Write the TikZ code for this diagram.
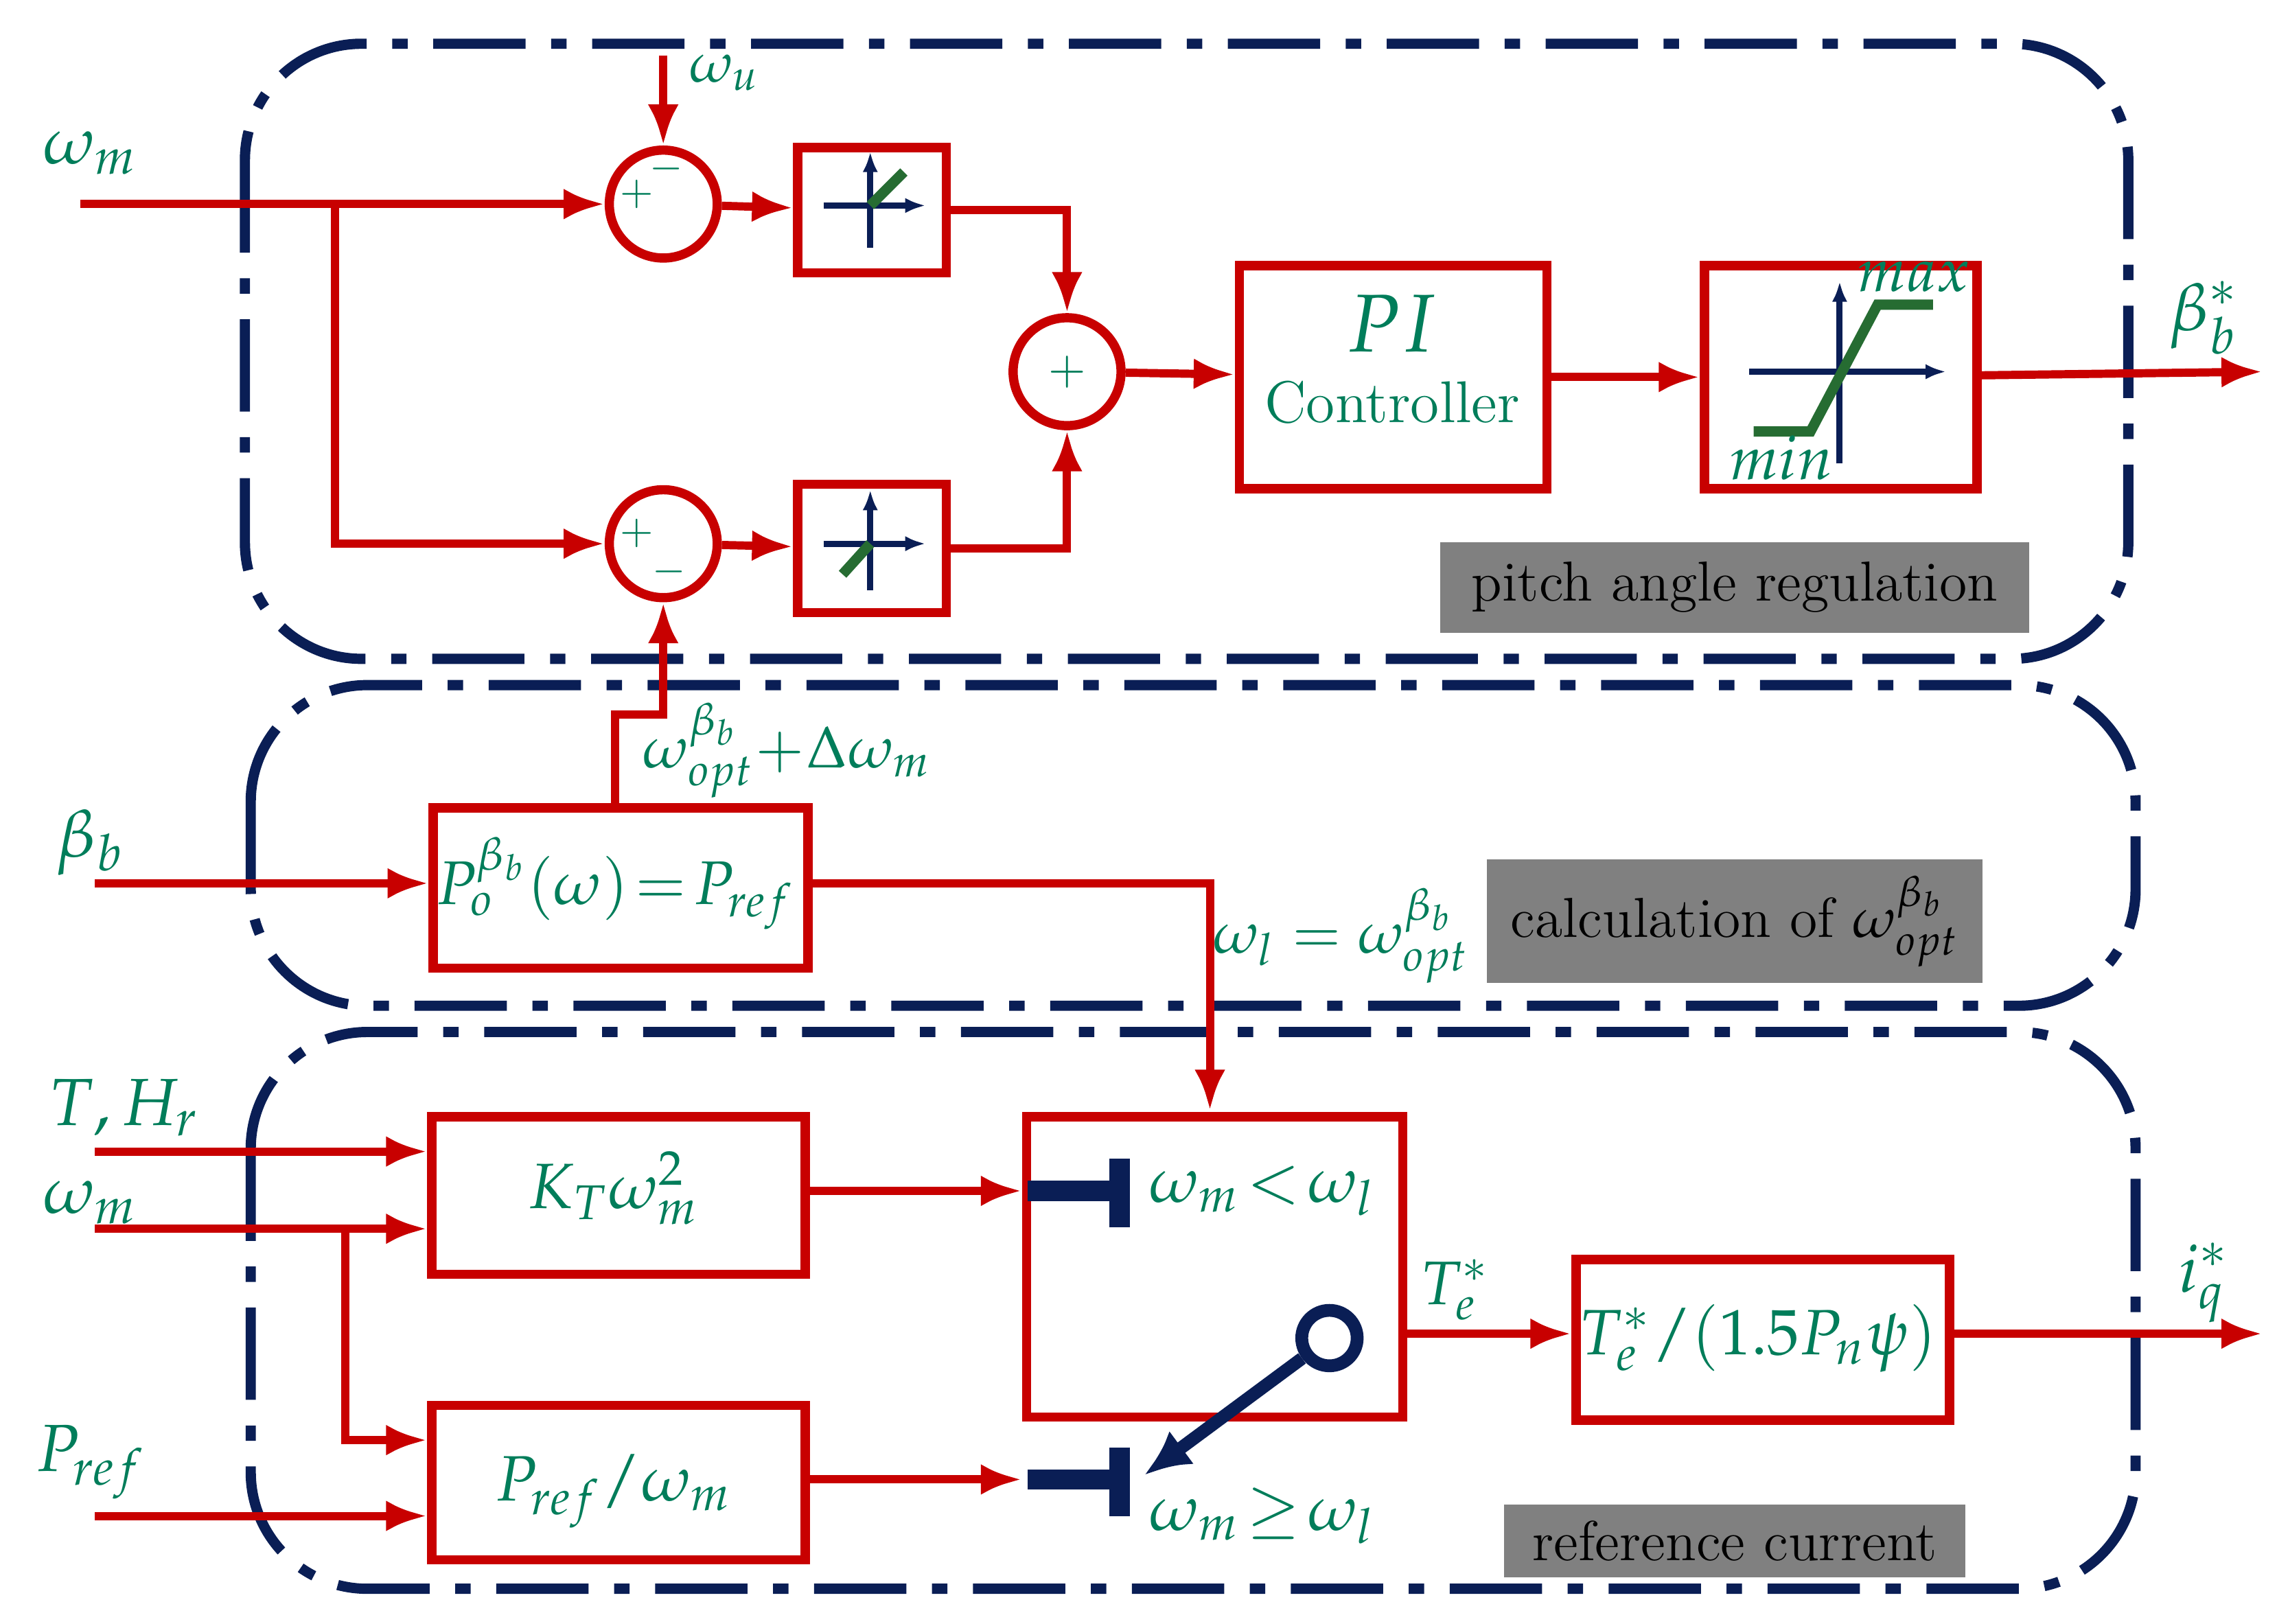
\documentclass[tikz,border=0pt]{standalone}
\usepackage{mathpazo}
\usetikzlibrary{arrows.meta}
\definecolor{rd}{RGB}{200,0,0}
\definecolor{gn}{RGB}{0,125,90}
\definecolor{nv}{RGB}{10,30,85}
\definecolor{gy}{RGB}{128,128,128}
\begin{document}
\begin{tikzpicture}[x=0.01cm,y=-0.01cm,
 sig/.style={rd,line width=1.6pt},
 arr/.style={sig,-{Latex[length=8pt,width=6pt]}},
 blk/.style={draw=rd,line width=1.8pt,inner sep=0pt,anchor=north west},
 sm/.style={circle,draw=rd,line width=1.8pt,minimum size=0.74cm,inner sep=0pt},
 grp/.style={nv,line width=2pt,rounded corners=0.8cm,dash pattern=on 18pt off 5pt on 3pt off 5pt},
 gl/.style={fill=gy,text=black,inner sep=0pt,font=\fontsize{11}{13}\selectfont},
 tx/.style={text=gn},
 bigl/.style={tx,font=\fontsize{13}{15}\selectfont},
 bx/.style={tx,font=\fontsize{12.5}{15}\selectfont},
 axs/.style={nv,line width=1.2pt,-{Latex[length=4pt]}},
 gline/.style={draw=gn!80!black!70!olive,line width=2pt}]
\useasboundingbox (0,0) rectangle (1562,1114);
% groups
\draw[grp] (168,30) rectangle (1460,452);
\draw[grp] (172,470) rectangle (1465,690);
\draw[grp] (172,708) rectangle (1465,1090);
% grey labels
\node[gl,minimum width=4.04cm,minimum height=0.62cm] (g1) at (1190,403) {pitch angle regulation};
\node[gl,minimum width=3.4cm,minimum height=0.85cm] (g2) at (1190,632) {calculation of $\omega_{opt}^{\beta_b}$};
\node[gl,minimum width=3.16cm,minimum height=0.5cm] (g3) at (1190,1057) {reference current};
% pitch section
\node[sm] (s1) at (455,140) {};
\node[sm] (s2) at (455,373) {};
\node[sm] (s3) at (732,255) {};
\node[tx,font=\footnotesize] at (437,133) {$+$};
\node[tx,font=\footnotesize] at (457,116) {$-$};
\node[tx,font=\footnotesize] at (437,366) {$+$};
\node[tx,font=\footnotesize] at (459,392) {$-$};
\node[tx,font=\small] at (732,255) {$+$};
\node[blk,minimum width=1.02cm,minimum height=0.86cm] (d1) at (544,98) {};
\node[blk,minimum width=1.02cm,minimum height=0.88cm] (d2) at (544,329) {};
\node[blk,minimum width=2.11cm,minimum height=1.53cm] (pi) at (847,179) {};
\node[tx,font=\fontsize{16}{18}\selectfont] at (955,222) {$PI$};
\node[tx,font=\fontsize{11.5}{14}\selectfont] at (955,276) {Controller};
\node[blk,minimum width=1.87cm,minimum height=1.53cm] (sat) at (1166,179) {};
% deadzone icons
\draw[axs] (565,141) -- (635,141); \draw[axs] (597,170) -- (597,104);
\draw[gline] (597,141) -- (620,118);
\draw[axs] (565,373) -- (635,373); \draw[axs] (597,405) -- (597,336);
\draw[gline] (597,373) -- (578,394);
% saturation icon
\draw[axs] (1200,255) -- (1335,255); \draw[axs] (1262,318) -- (1262,193);
\draw[gline] (1203,296) -- (1242,296) -- (1288,209) -- (1326,209);
\node[tx,font=\fontsize{12}{14}\selectfont] at (1313,190) {$max$};
\node[tx,font=\fontsize{12}{14}\selectfont] at (1222,314) {$min$};
% connectors pitch
\coordinate (in1) at (55,140);
\coordinate (br1) at (230,140);
\coordinate (wu) at (455,38);
\coordinate (out1) at (1552,255);
\node[bigl] at (62,105) {$\omega_m$};
\node[tx,font=\fontsize{11}{13}\selectfont] at (497,50) {$\omega_u$};
\node[bigl] at (1512,218) {$\beta_b^*$};
\draw[arr] (in1) -- (s1);
\draw[arr] (br1) |- (s2);
\draw[arr] (wu) -- (s1);
\draw[arr] (s1) -- (d1);
\draw[arr] (s2) -- (d2);
\draw[arr] (d1.east) -| (s3);
\draw[arr] (d2.east) -| (s3);
\draw[arr] (s3) -- (pi);
\draw[arr] (pi) -- (sat);
\draw[arr] (sat) -- (out1);
% middle
\node[blk,minimum width=2.57cm,minimum height=1.1cm] (po) at (294,551) {};
\node[tx,font=\fontsize{12}{14}\selectfont] at (422,606) {$P_o^{\beta_b}(\omega)\!=\!P_{ref}$};
\coordinate (in2) at (65,606);
\node[bigl] at (62,578) {$\beta_b$};
\draw[arr] (in2) -- (po.west |- in2);
\draw[arr] (po.north -| 422,0) |- (455,490) -- (s2);
\node[tx,font=\fontsize{11.5}{14}\selectfont] at (540,515) {$\omega_{opt}^{\beta_b}\!+\!\Delta\omega_m$};
% bottom
\node[blk,minimum width=2.58cm,minimum height=2.06cm] (sw) at (701,763) {};
\draw[arr] (po.east |- in2) -| (830,762);
\node[tx,font=\fontsize{11.5}{14}\selectfont] at (920,642) {$\omega_l=\omega_{opt}^{\beta_b}$};
\node[blk,minimum width=2.56cm,minimum height=1.08cm] (kt) at (293,763) {};
\node[bx] at (421,815) {$K_T\omega_m^2$};
\node[blk,minimum width=2.56cm,minimum height=1.06cm] (pr) at (293,961) {};
\node[bx] at (421,1023) {$P_{ref}/\omega_m$};
\node[blk,minimum width=2.56cm,minimum height=1.1cm] (tq) at (1078,861) {};
\node[bx] at (1206,918) {$T_e^*/(1.5P_n\psi)$};
\node[bigl] at (85,760) {$T,H_r$};
\node[bigl] at (62,825) {$\omega_m$};
\node[bigl] at (62,1003) {$P_{ref}$};
\node[bigl] at (1512,880) {$i_q^*$};
\node[tx,font=\fontsize{12}{14}\selectfont] at (998,885) {$T_e^*$};
\coordinate (a1) at (65,790);
\coordinate (a2) at (65,843);
\coordinate (a3) at (65,1040);
\coordinate (br2) at (237,843);
\draw[arr] (a1) -- (kt.west |- a1);
\draw[arr] (a2) -- (kt.west |- a2);
\draw[arr] (br2) |- (pr.west |- 0,988);
\draw[arr] (a3) -- (pr.west |- a3);
\draw[arr] (kt.east |- 0,817) -- (sw.west |- 0,817);
\draw[arr] (pr.east |- 0,1015) -- (sw.west |- 0,1015);
\draw[arr] (sw.east |- 0,915) -- (tq.west |- 0,915);
\draw[arr] (tq.east |- 0,915) -- (1552,915);
% switch internals
\draw[nv,line width=4pt] (705,817) -- (768,817);
\draw[nv,line width=4pt] (768,795) -- (768,842);
\draw[nv,line width=4pt] (705,1015) -- (768,1015);
\draw[nv,line width=4pt] (768,993) -- (768,1040);
\node[circle,draw=nv,line width=2.5pt,minimum size=0.38cm,inner sep=0pt] (c) at (912,918) {};
\draw[nv,line width=2.5pt,-{Latex[length=9pt,width=8pt]}] (c) -- (785,1012);
\node[bx] at (866,817) {$\omega_m\!<\!\omega_l$};
\node[bx] at (866,1040) {$\omega_m\!\geq\!\omega_l$};
\end{tikzpicture}
\end{document}
